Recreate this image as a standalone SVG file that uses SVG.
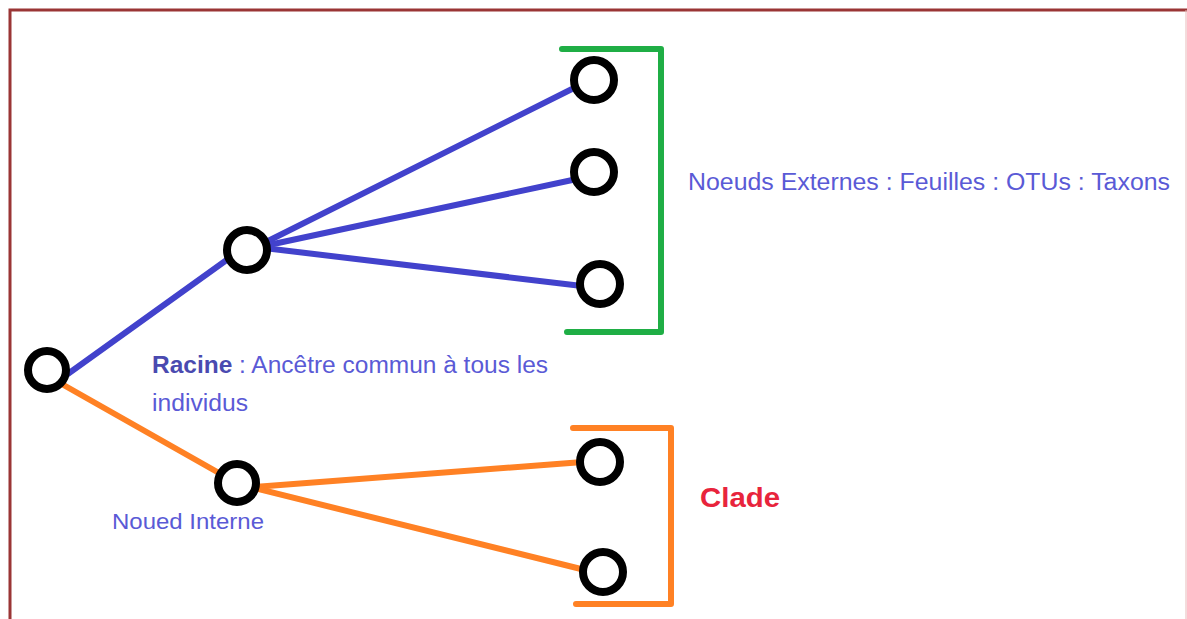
<svg xmlns="http://www.w3.org/2000/svg" width="1187" height="619" viewBox="0 0 1187 619">
<style>
.node{fill:#fff;stroke:#000;stroke-width:8}
.blue{stroke:#4242cc;stroke-width:6;stroke-linecap:round;fill:none}
.orange{stroke:#ff8124;stroke-width:6;stroke-linecap:round;fill:none}
.green{stroke:#1fae45;stroke-width:6;stroke-linecap:round;stroke-linejoin:round;fill:none}
.obr{stroke:#ff8124;stroke-width:6;stroke-linecap:round;stroke-linejoin:round;fill:none}
.lbl{font-family:"Liberation Sans",Arial,sans-serif;fill:#5a5ad6}
</style>
<rect width="1187" height="619" fill="#fff"/>
<path d="M10,619 V10 H1187" fill="none" stroke="#9a3535" stroke-width="3"/>
<line x1="1186" y1="10" x2="1186" y2="619" stroke="#e8b8b8" stroke-width="1"/>
<g id="connectors">
<line class="blue" x1="58" y1="381" x2="228" y2="259"/>
<line class="blue" x1="262" y1="244" x2="576" y2="87"/>
<line class="blue" x1="264" y1="246" x2="577" y2="179"/>
<line class="blue" x1="264" y1="248" x2="582" y2="286"/>
<line class="orange" x1="60" y1="383" x2="219" y2="473"/>
<line class="orange" x1="254" y1="487" x2="583" y2="462"/>
<line class="orange" x1="254" y1="488" x2="585" y2="570"/>
<path class="green" d="M562,49 H661 V332 H567"/>
<path class="obr" d="M573,428 H671 V604 H576"/>
</g>
<g id="root"><circle class="node" cx="47" cy="370" r="19"/></g>
<g id="inner-blue"><circle class="node" cx="247" cy="250" r="20"/></g>
<g id="leaf1"><circle class="node" cx="594" cy="80" r="20"/></g>
<g id="leaf2"><circle class="node" cx="594" cy="172" r="20"/></g>
<g id="leaf3"><circle class="node" cx="600" cy="284" r="20"/></g>
<g id="inner-orange"><circle class="node" cx="237" cy="483" r="19"/></g>
<g id="leaf4"><circle class="node" cx="600" cy="462" r="20"/></g>
<g id="leaf5"><circle class="node" cx="603" cy="572" r="20"/></g>
<g id="labels">
<text class="lbl" x="688" y="190" font-size="23" textLength="482" lengthAdjust="spacingAndGlyphs">Noeuds Externes : Feuilles : OTUs : Taxons</text>
<text class="lbl" x="152" y="373" font-size="23" textLength="396" lengthAdjust="spacingAndGlyphs"><tspan font-weight="bold" fill="#4a4ab0">Racine</tspan> : Ancêtre commun à tous les</text>
<text class="lbl" x="152" y="411" font-size="23" textLength="96" lengthAdjust="spacingAndGlyphs">individus</text>
<text class="lbl" x="112" y="529" font-size="22" textLength="152" lengthAdjust="spacingAndGlyphs">Noued Interne</text>
<text x="700" y="507" font-family="Liberation Sans,Arial,sans-serif" font-size="27" font-weight="bold" fill="#e8243c" textLength="80" lengthAdjust="spacingAndGlyphs">Clade</text>
</g>
</svg>
